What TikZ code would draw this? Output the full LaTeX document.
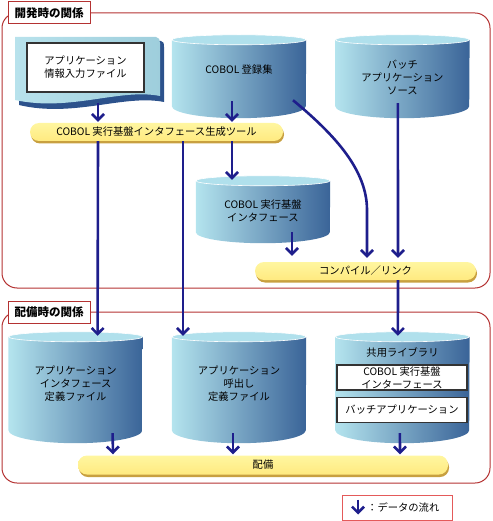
\documentclass[tikz,border=0pt]{standalone}
\usepackage{fontspec}
\setmainfont{Noto Sans CJK JP}
\usetikzlibrary{arrows.meta,positioning,backgrounds,shadows}

\definecolor{flowblue}{RGB}{30,30,140}
\definecolor{framered}{RGB}{180,50,50}
\definecolor{legendred}{RGB}{228,90,90}
\definecolor{cyllight}{RGB}{180,228,238}
\definecolor{cyldark}{RGB}{58,100,152}
\definecolor{cyltop}{RGB}{176,224,236}
\definecolor{doclight}{RGB}{184,226,236}
\definecolor{docfill}{RGB}{158,206,220}
\definecolor{docshade}{RGB}{44,82,140}
\definecolor{pilltop}{RGB}{255,246,160}
\definecolor{pillfill}{RGB}{255,234,128}
\definecolor{pillshade}{RGB}{200,160,64}

\begin{document}
\begin{tikzpicture}[x=1pt, y=-1pt, node distance=29pt,
    >={Straight Barb[length=6pt, width=12pt]},
    font=\fontsize{10.3}{13}\selectfont,
    flow/.style={->, draw=flowblue, line width=2.6pt, shorten >=1pt},
    cyl/.style={minimum width=134pt, minimum height=#1, inner sep=0pt, align=center},
    cyltext/.style={label={[align=center, yshift=-4.5pt]center:#1}},
    pill/.style={rounded corners=9pt, minimum width=#1, minimum height=18pt, inner sep=0pt,
        top color=pilltop, bottom color=pillfill,
        drop shadow={shadow xshift=1pt, shadow yshift=-2.5pt, fill=pillshade, opacity=1}},
    titlebox/.style={draw=framered, fill=white, line width=1pt, minimum width=82pt,
        minimum height=22pt, inner sep=0pt, font=\fontsize{11.5}{13}\selectfont\bfseries},
    frame/.style={draw=framered, line width=1pt, rounded corners=15pt},
    whitebox/.style={draw=black!80, fill=white, line width=1.2pt, inner sep=0pt, align=center}
    ]
\useasboundingbox (0,0) rectangle (492,521);

% development time
\node[titlebox] (devtitle) at (49,13) {開発時の関係};
\node[whitebox, minimum width=117pt, minimum height=49pt] (doc) at (85.5,67.5) {アプリケーション\\情報入力ファイル};
\node[cyl=66pt, label={[yshift=3pt]center:COBOL 登録集}] (reg) at (239,73) {};
\node[cyl=66pt, right=of reg, cyltext={バッチ\\アプリケーション\\ソース}] (src) {};
\node[pill=253pt] (gen) at (156.5,132) {COBOL 実行基盤インタフェース生成ツール};
\node[cyl=51pt, cyltext={COBOL 実行基盤\\インタフェース}] (ifc) at (263,206.5) {};
\node[pill=221pt] (comp) at (365.5,271) {コンパイル／リンク};

% deployment time
\node[titlebox] (deptitle) at (49,312.5) {配備時の関係};
\node[cyl=93pt] (call) at (239,383.5) {アプリケーション\\呼出し\\定義ファイル};
\node[cyl=93pt, left=of call] (appif) {アプリケーション\\インタフェース\\定義ファイル};
\node[cyl=93pt, right=of call] (shlib) {};
\node (shtitle) at (402.5,353) {共用ライブラリ};
\node[whitebox, minimum width=130pt, minimum height=25pt] (shifc) at (402,377.5) {COBOL 実行基盤\\インターフェース};
\node[whitebox, minimum width=130pt, minimum height=25pt, below=6pt of shifc] (shbatch) {バッチアプリケーション};
\node[pill=370pt, minimum height=19pt] (deploy) at (263,465) {配備};

% legend
\node[draw=legendred, line width=1pt, minimum width=110pt, minimum height=25pt] (key) at (397,507.5) {};
\node[anchor=west, inner sep=0pt] (keytext) at (367,507.5) {：データの流れ};

\begin{scope}[on background layer]
  \draw[frame] (2,13) rectangle (490,288);
  \draw[frame] (2,312) rectangle (490,483);
  % input file sheet
  \fill[docshade] (19,41) -- (161,41) .. controls (164,41) and (164,44) .. (164,47)
    -- (164,102) .. controls (124,94) and (74,118) .. (19,105) -- cycle;
  \shade[left color=doclight, right color=docfill] (15,37) -- (156,37) .. controls (159,37) and (160,40) .. (160,43)
    -- (160,96) .. controls (120,88) and (70,112) .. (15,100) -- cycle;
  \foreach \c/\ry in {reg/12,src/12,ifc/11,appif/13,call/13,shlib/13}{
    \shade[left color=cyllight, right color=cyldark] (\c.north west) -- (\c.south west)
      arc[start angle=180, end angle=360, x radius=67pt, y radius=\ry pt] -- (\c.north east) -- cycle;
    \filldraw[fill=cyltop, draw=white, line width=0.6pt] (\c.north) ellipse[x radius=67pt, y radius=5pt];
  }
\end{scope}

\draw[flow] ([shift={(12.5,10)}]doc.south) -- ([xshift=-58.5pt]gen.north);
\draw[flow] ([shift={(-7,-5)}]reg.south) -- ([xshift=75.5pt]gen.north);
\draw[flow] ([xshift=-58.5pt]gen.south) -- ([xshift=22pt]appif.north);
\draw[flow] ([xshift=26.5pt]gen.south) -- ([xshift=-56pt]call.north);
\draw[flow] ([xshift=75.5pt]gen.south) -- ([xshift=-31pt]ifc.north);
\draw[flow, shorten >=4pt] ([shift={(54,-6)}]reg.south) .. controls (335,135) and (367,170) .. (367,210) -- ([xshift=1.5pt]comp.north);
\draw[flow, shorten >=4pt] ([shift={(-4.5,-3)}]src.south) -- ([xshift=32.5pt]comp.north);
\draw[flow, shorten >=6pt] ([xshift=29pt]ifc.south) -- ([xshift=-73.5pt]comp.north);
\draw[flow] ([xshift=32.5pt]comp.south) -- ([xshift=-4.5pt]shlib.north);
\draw[flow] ([shift={(37,3)}]appif.south) -- ([xshift=-150pt]deploy.north);
\draw[flow] ([shift={(-6,3)}]call.south) -- ([xshift=-30pt]deploy.north);
\draw[flow] ([shift={(-2.5,3)}]shlib.south) -- ([xshift=137pt]deploy.north);
\draw[flow] ([shift={(-39,-8)}]key.center) -- ([shift={(-39,8)}]key.center);
\end{tikzpicture}
\end{document}
